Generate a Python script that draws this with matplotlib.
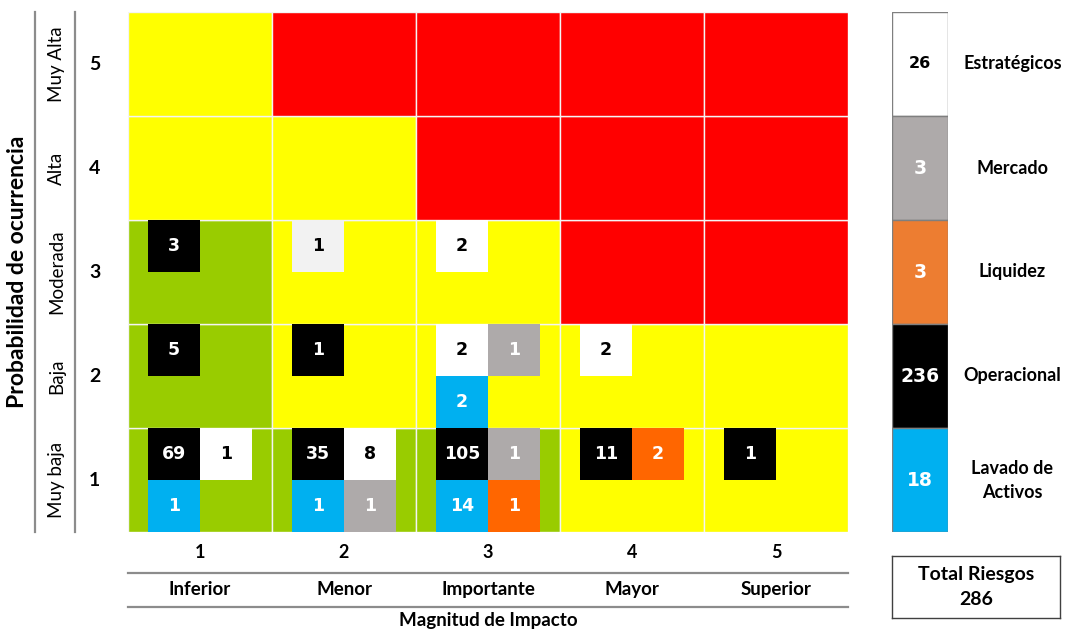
import matplotlib
matplotlib.use('Agg')
import matplotlib.pyplot as plt
from matplotlib.lines import Line2D

# --- data ---
impact_levels = [1, 2, 3, 4, 5]
impact_labels = ['Inferior', 'Menor', 'Importante', 'Mayor', 'Superior']
prob_levels = [1, 2, 3, 4, 5]
prob_labels = ['Muy baja', 'Baja', 'Moderada', 'Alta', 'Muy Alta']

# zone per cell, rows = probability 1..5, cols = impact 1..5
zones = [
    ['bajo', 'bajo', 'bajo', 'medio', 'medio'],
    ['bajo', 'medio', 'medio', 'medio', 'medio'],
    ['bajo', 'medio', 'medio', 'alto', 'alto'],
    ['medio', 'medio', 'alto', 'alto', 'alto'],
    ['medio', 'alto', 'alto', 'alto', 'alto'],
]

categories = ['Estratégicos', 'Mercado', 'Liquidez', 'Operacional', 'Lavado de\nActivos']
category_totals = [26, 3, 3, 236, 18]
total_riesgos = 286

# risks placed on the map (in drawing order within each cell)
risk_impact = [1, 1, 1, 1, 1, 2, 2, 2, 2, 2, 2, 3, 3, 3, 3, 3, 3, 3, 3, 4, 4, 4, 5]
risk_prob   = [3, 2, 1, 1, 1, 3, 2, 1, 1, 1, 1, 3, 2, 2, 2, 1, 1, 1, 1, 2, 1, 1, 1]
risk_cat    = ['Operacional', 'Operacional', 'Operacional', 'Estratégicos', 'Lavado de\nActivos',
               'Estratégicos', 'Operacional', 'Operacional', 'Estratégicos', 'Lavado de\nActivos', 'Mercado',
               'Estratégicos', 'Estratégicos', 'Mercado', 'Lavado de\nActivos',
               'Operacional', 'Mercado', 'Lavado de\nActivos', 'Liquidez',
               'Estratégicos', 'Operacional', 'Liquidez',
               'Operacional']
risk_count  = [3, 5, 69, 1, 1, 1, 1, 35, 8, 1, 1, 2, 2, 1, 2, 105, 1, 14, 1, 2, 11, 2, 1]

# --- styles ---
zone_colors = {'bajo': '#99CC00', 'medio': '#FFFF00', 'alto': '#FF0000'}
cat_colors = {'Estratégicos': '#FFFFFF', 'Mercado': '#AEAAAA', 'Liquidez': '#FF6600',
              'Operacional': '#000000', 'Lavado de\nActivos': '#00B0F0'}
legend_colors = ['#FFFFFF', '#AEAAAA', '#ED7D31', '#000000', '#00B0F0']
dark_text = {'Estratégicos'}
faded = {(2, 3)}  # lighter box in Menor / Moderada

label_font = 'Lato'
num_font = 'DejaVu Sans'
line_gray = '#8C8C8C'

fig = plt.figure(figsize=(10.72, 6.31), dpi=100)
ax = fig.add_axes([128 / 1072, 99 / 631, 720 / 1072, 520 / 631])
ax.set_xlim(0.5, 5.5)
ax.set_ylim(0.5, 5.5)
ax.axis('off')

# background cells
for pi, p in enumerate(prob_levels):
    for ii, imp in enumerate(impact_levels):
        ax.bar(imp, 1, width=1, bottom=p - 0.5, color=zone_colors[zones[pi][ii]],
               edgecolor='#F4F4F4', linewidth=1.0, zorder=1)

# risk boxes
box_w = 52 / 144
box_off = 20 / 144
slots = {}
for imp, p, cat, n in zip(risk_impact, risk_prob, risk_cat, risk_count):
    k = slots.get((imp, p), 0)
    slots[(imp, p)] = k + 1
    x0 = imp - 0.5 + box_off + (k % 2) * box_w
    y0 = p + 0.5 - 0.5 * (k // 2 + 1)
    col = cat_colors[cat]
    if (imp, p) in faded:
        col = '#F2F2F2'
    ax.bar(x0, 0.5, width=box_w, bottom=y0, align='edge', color=col, linewidth=0, zorder=2)
    ax.text(x0 + box_w / 2, y0 + 0.25, str(n), ha='center', va='center', fontsize=12.5,
            fontweight='bold', family=num_font, zorder=3,
            color='black' if cat in dark_text else 'white')

# left axis labels
for p, lab in zip(prob_levels, prob_labels):
    ax.text(-0.046, p, str(p), transform=ax.get_yaxis_transform(), ha='center', va='center',
            fontsize=14, fontweight='bold', family=label_font)
    ax.text(-0.099, p, lab, transform=ax.get_yaxis_transform(), ha='center', va='center',
            rotation=90, fontsize=13.5, family=label_font)
ax.text(-0.153, 0.5, 'Probabilidad de ocurrencia', transform=ax.transAxes, ha='center', va='center',
        rotation=90, fontsize=16.5, fontweight='bold', family=label_font)
for xf in [-0.129, -0.0736]:
    ax.add_line(Line2D([xf, xf], [0, 1], transform=ax.transAxes, color=line_gray, lw=1.6, clip_on=False))

# bottom axis labels
for imp, lab in zip(impact_levels, impact_labels):
    ax.text(imp, -0.040, str(imp), transform=ax.get_xaxis_transform(), ha='center', va='center',
            fontsize=13, fontweight='bold', family=label_font)
    ax.text(imp, -0.1115, lab, transform=ax.get_xaxis_transform(), ha='center', va='center',
            fontsize=13.5, fontweight='bold', family=label_font)
for yf in [-0.0788, -0.144]:
    ax.add_line(Line2D([0, 1], [yf, yf], transform=ax.transAxes, color=line_gray, lw=1.6, clip_on=False))
ax.text(0.5, -0.170, 'Magnitud de Impacto', transform=ax.transAxes, ha='center', va='center',
        fontsize=13.5, fontweight='bold', family=label_font)

# legend column
lax = fig.add_axes([892 / 1072, 99 / 631, 56 / 1072, 520 / 631])
lax.set_xlim(0, 1)
lax.set_ylim(0, 5)
lax.axis('off')
for i, (cat, tot, col) in enumerate(zip(categories, category_totals, legend_colors)):
    yb = 4 - i
    lax.bar(0.5, 1, width=1, bottom=yb, color=col, edgecolor='#7F7F7F', linewidth=1.0)
    lax.text(0.5, yb + 0.5, str(tot), ha='center', va='center',
             fontsize=11.5 if col == '#FFFFFF' else 13.5,
             fontweight='bold', family=num_font, color='black' if col == '#FFFFFF' else 'white')
    lax.text(2.15, yb + 0.5, cat, ha='center', va='center', fontsize=13, fontweight='bold',
             family=label_font, linespacing=1.5, clip_on=False)

# total box
tax = fig.add_axes([892 / 1072, 13 / 631, 168 / 1072, 62 / 631])
tax.set_xticks([])
tax.set_yticks([])
for s in tax.spines.values():
    s.set_color('#404040')
    s.set_linewidth(1.0)
tax.text(0.5, 0.5, 'Total Riesgos\n%d' % total_riesgos, ha='center', va='center', fontsize=14,
         fontweight='bold', family=label_font, transform=tax.transAxes, linespacing=1.55)

fig.savefig('out.png', dpi=100)
